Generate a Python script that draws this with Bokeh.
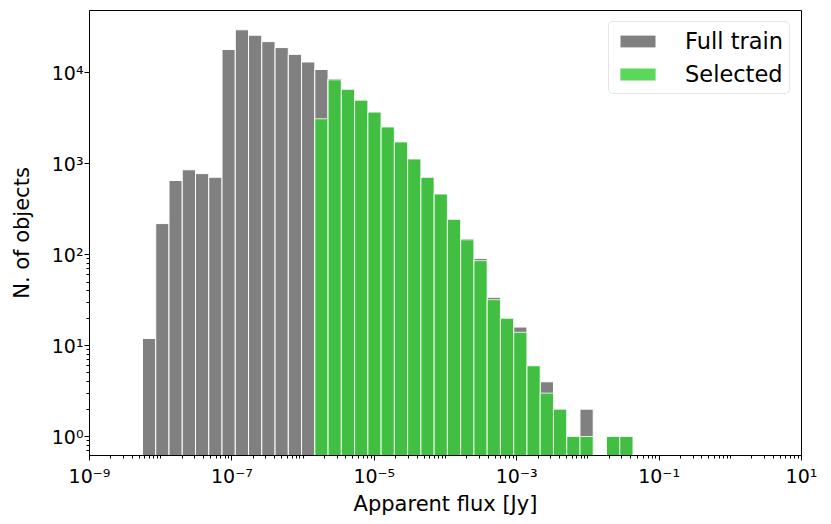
import numpy as np
from bokeh.plotting import figure
from bokeh.models import (ColumnDataSource, FixedTicker, CustomJSTickFormatter,
                          Range1d, Legend, LegendItem)
from bokeh.embed import file_html
from bokeh.resources import INLINE

# ---- data ----
# histogram bins in log10(flux [Jy])
log_bin_start = -8.256
log_bin_width = 0.1862
full_train = [12, 220, 655, 860, 780, 712, 18100, 29800, 26000, 22100, 19000, 16000,
              13200, 10900, 8700, 6730, 5060, 3760, 2570, 1760, 1145, 725, 471, 250,
              151, 91, 34, 20, 16, 6, 4, 2, 1, 2, 0, 1, 1]
selected = [0, 0, 0, 0, 0, 0, 0, 0, 0, 0, 0, 0,
            0, 3130, 8400, 6560, 5000, 3700, 2540, 1740, 1130, 707, 465, 244,
            146, 86, 32, 20, 14, 6, 3, 2, 1, 1, 0, 1, 1]
x_tick_values = [1e-9, 1e-7, 1e-5, 1e-3, 1e-1, 1e1]
x_tick_labels = ["10⁻⁹", "10⁻⁷", "10⁻⁵", "10⁻³", "10⁻¹", "10¹"]
y_tick_values = [1, 10, 100, 1000, 10000]
y_tick_labels = ["10⁰", "10¹", "10²", "10³", "10⁴"]
series_names = ["Full train", "Selected"]

FONT = "DejaVu Sans"

nb = len(full_train)
edges = 10 ** (log_bin_start + log_bin_width * np.arange(nb + 1))
left, right = edges[:-1], edges[1:]


def src(counts):
    c = np.array(counts, dtype=float)
    m = c > 0
    return ColumnDataSource(dict(left=left[m], right=right[m], top=c[m],
                                 bottom=np.full(m.sum(), 1e-3)))


p = figure(x_axis_type="log", y_axis_type="log", output_backend="svg",
           toolbar_location=None, frame_width=712, frame_height=445,
           min_border_left=89, min_border_right=22, min_border_top=10,
           min_border_bottom=61,
           x_range=Range1d(1e-9, 1e1), y_range=Range1d(0.618, 48600))

r_full = p.quad(left="left", right="right", top="top", bottom="bottom",
                source=src(full_train), fill_color="#808080",
                line_color="white", line_width=1)
r_sel = p.quad(left="left", right="right", top="top", bottom="bottom",
               source=src(selected), fill_color="#32cd32", fill_alpha=0.8,
               line_color="white", line_width=1, line_alpha=0.8)

minor = []
for n in range(-10, 2):
    for k in range(1, 10):
        v = k * 10.0 ** n
        minor.append(v)
x_minor = [v for v in minor if 1e-9 <= v <= 10]
y_minor = [v for v in minor if 0.6 <= v <= 50000]

fmt_code = """
let best = -1, bd = 1e9;
for (let i = 0; i < tvals.length; i++) {
  const d = Math.abs(Math.log10(tvals[i]) - Math.log10(tick));
  if (d < bd) { bd = d; best = i; }
}
return bd < 1e-6 ? tlabels[best] : "";
"""

p.xaxis.ticker = FixedTicker(ticks=x_tick_values, minor_ticks=x_minor)
p.yaxis.ticker = FixedTicker(ticks=y_tick_values, minor_ticks=y_minor)
p.xaxis.formatter = CustomJSTickFormatter(args=dict(tvals=x_tick_values, tlabels=x_tick_labels), code=fmt_code)
p.yaxis.formatter = CustomJSTickFormatter(args=dict(tvals=y_tick_values, tlabels=y_tick_labels), code=fmt_code)

for ax in (p.xaxis[0], p.yaxis[0]):
    ax.major_tick_out = 5
    ax.major_tick_in = 0
    ax.minor_tick_out = 3
    ax.minor_tick_in = 0
    ax.axis_line_color = "black"
    ax.major_tick_line_color = "black"
    ax.minor_tick_line_color = "black"
    ax.major_label_text_font = FONT
    ax.major_label_text_font_size = "19px"
    ax.major_label_text_color = "black"
    ax.axis_label_text_font = FONT
    ax.axis_label_text_font_size = "21px"
    ax.axis_label_text_font_style = "normal"
    ax.axis_label_text_color = "black"

p.xaxis.axis_label = "Apparent flux [Jy]"
p.yaxis.axis_label = "N. of objects"
p.xaxis.major_label_standoff = 4
p.yaxis.major_label_standoff = 1
p.xaxis.axis_label_standoff = 2
p.yaxis.axis_label_standoff = 15

p.xgrid.visible = False
p.ygrid.visible = False
p.outline_line_color = "black"
p.outline_line_width = 1
p.outline_line_alpha = 1
p.background_fill_color = "white"
p.border_fill_color = "white"

legend = Legend(items=[LegendItem(label=series_names[0], renderers=[r_full]),
                       LegendItem(label=series_names[1], renderers=[r_sel])],
                location="top_right")
legend.margin = 11
legend.padding = 6
legend.spacing = 7
legend.glyph_width = 45
legend.glyph_height = 16
legend.label_standoff = 25
legend.label_text_font = FONT
legend.label_text_font_size = "22.5px"
legend.label_text_color = "black"
legend.border_line_color = "#cccccc"
legend.border_line_width = 1
legend.background_fill_alpha = 0.8
if "border_radius" in Legend.properties():
    legend.border_radius = 5
p.add_layout(legend)

open("out.html", "w").write(file_html(p, INLINE))
